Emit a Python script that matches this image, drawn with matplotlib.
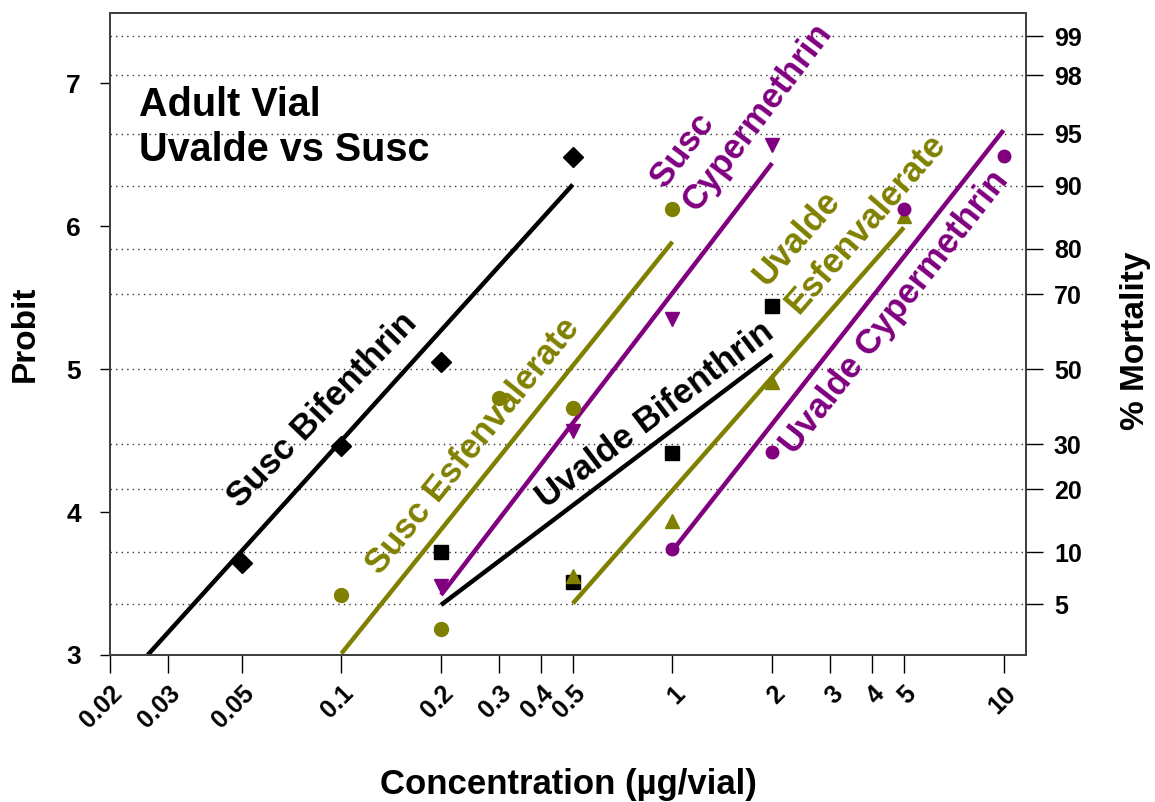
import statistics
import matplotlib.pyplot as plt

# dose (ug/vial) and observed probit for each strain / insecticide
susc_bif_dose = [0.05, 0.1, 0.2, 0.5]
susc_bif_probit = [3.64, 4.46, 5.05, 6.48]
uval_bif_dose = [0.2, 0.5, 1, 2]
uval_bif_probit = [3.72, 3.51, 4.41, 5.44]
susc_esf_dose = [0.1, 0.2, 0.3, 0.5, 1]
susc_esf_probit = [3.42, 3.18, 4.80, 4.73, 6.12]
susc_cyp_dose = [0.2, 0.5, 1, 2]
susc_cyp_probit = [3.48, 4.57, 5.35, 6.57]
uval_esf_dose = [0.5, 1, 2, 5]
uval_esf_probit = [3.55, 3.94, 4.91, 6.07]
uval_cyp_dose = [1, 2, 5, 10]
uval_cyp_probit = [3.74, 4.42, 6.12, 6.49]

# fitted probit lines: (dose range, probit range)
susc_bif_fit = ([0.026, 0.5], [3.0, 6.29])
uval_bif_fit = ([0.2, 2], [3.35, 5.10])
susc_esf_fit = ([0.1, 1], [3.01, 5.89])
susc_cyp_fit = ([0.2, 2], [3.42, 6.44])
uval_esf_fit = ([0.5, 5], [3.36, 5.99])
uval_cyp_fit = ([1, 10], [3.73, 6.67])

dose_ticks = [0.02, 0.03, 0.05, 0.1, 0.2, 0.3, 0.4, 0.5, 1, 2, 3, 4, 5, 10]
probit_ticks = [3, 4, 5, 6, 7]
mortality_pct = [5, 10, 20, 30, 50, 70, 80, 90, 95, 98, 99]

OLIVE = '#808000'
PURPLE = '#800080'
plt.rcParams['font.family'] = ['Liberation Sans', 'DejaVu Sans']
plt.rcParams['font.weight'] = 'bold'

# probit = 5 + z(p)
nd = statistics.NormalDist()
mort_probit = [5 + nd.inv_cdf(p / 100) for p in mortality_pct]

fig = plt.figure(figsize=(11.55, 8.02), dpi=100)
ax = fig.add_axes([0.0952, 0.1833, 0.7932, 0.8005])
ax.set_xscale('log')
ax.set_xlim(0.02, 11.7)
ax.set_ylim(3, 7.49)

for y in mort_probit:
    ax.axhline(y, color='#333333', lw=1, ls=(0, (1, 3)), zorder=1)

series = [
    (susc_bif_fit, susc_bif_dose, susc_bif_probit, 'black', 'D', 10),
    (uval_bif_fit, uval_bif_dose, uval_bif_probit, 'black', 's', 9.5),
    (susc_esf_fit, susc_esf_dose, susc_esf_probit, OLIVE, 'o', 10),
    (susc_cyp_fit, susc_cyp_dose, susc_cyp_probit, PURPLE, 'v', 10),
    (uval_esf_fit, uval_esf_dose, uval_esf_probit, OLIVE, '^', 10),
    (uval_cyp_fit, uval_cyp_dose, uval_cyp_probit, PURPLE, 'o', 9),
]
for fit, dose, probit, col, mk, ms in series:
    ax.plot(fit[0], fit[1], color=col, lw=3.2, solid_capstyle='butt', zorder=3)
    ax.plot(dose, probit, ls='none', marker=mk, ms=ms, color=col, zorder=4)

# labels along the fitted lines
lab = dict(fontsize=25, fontweight='bold', ha='center', va='center', zorder=5)
ax.text(0.0877, 4.71, 'Susc Bifenthrin', color='black', rotation=46, **lab)
ax.text(0.249, 4.46, 'Susc Esfenvalerate', color=OLIVE, rotation=51, **lab)
ax.text(1.07, 6.53, 'Susc', color=PURPLE, rotation=53, **lab)
ax.text(1.81, 6.76, 'Cypermethrin', color=PURPLE, rotation=53, **lab)
ax.text(0.889, 4.68, 'Uvalde Bifenthrin', color='black', rotation=37, **lab)
ax.text(2.38, 5.92, 'Uvalde', color=OLIVE, rotation=49, **lab)
ax.text(3.83, 6.02, 'Esfenvalerate', color=OLIVE, rotation=49, **lab)
ax.text(4.68, 5.40, 'Uvalde Cypermethrin', color=PURPLE, rotation=52, **lab)

ax.text(0.0244, 6.98, 'Adult Vial\nUvalde vs Susc', fontsize=28.5, fontweight='bold',
        ha='left', va='top', linespacing=1.25)

ax.set_xticks(dose_ticks)
ax.set_xticklabels([f'{d:g}' for d in dose_ticks], rotation=45, ha='right',
                   va='top', rotation_mode='anchor', fontsize=18, fontweight='bold')
ax.minorticks_off()
ax.tick_params(axis='x', length=13, width=1, pad=6)
ax.set_yticks(probit_ticks)
ax.set_yticklabels([str(p) for p in probit_ticks], fontsize=19, fontweight='bold')
ax.tick_params(axis='y', length=7, width=1, pad=14)

ax.set_xlabel('Concentration (µg/vial)', fontsize=25, fontweight='bold', va='center')
ax.xaxis.set_label_coords(0.5, -0.2025)
ax.set_ylabel('Probit', fontsize=24, fontweight='bold', va='center')
ax.yaxis.set_label_coords(-0.093, 0.5)

ax2 = ax.twinx()
ax2.set_ylim(ax.get_ylim())
ax2.set_yticks(mort_probit)
ax2.set_yticklabels([str(p) for p in mortality_pct], fontsize=18, fontweight='bold')
ax2.tick_params(axis='y', length=12, width=1, pad=8)
ax2.set_ylabel('% Mortality', fontsize=24, fontweight='bold', va='center')
ax2.yaxis.set_label_coords(1.119, 0.49)

for a in (ax, ax2):
    for s in a.spines.values():
        s.set_color('#404040')
        s.set_linewidth(1.3)

fig.savefig('out.png', dpi=100)
